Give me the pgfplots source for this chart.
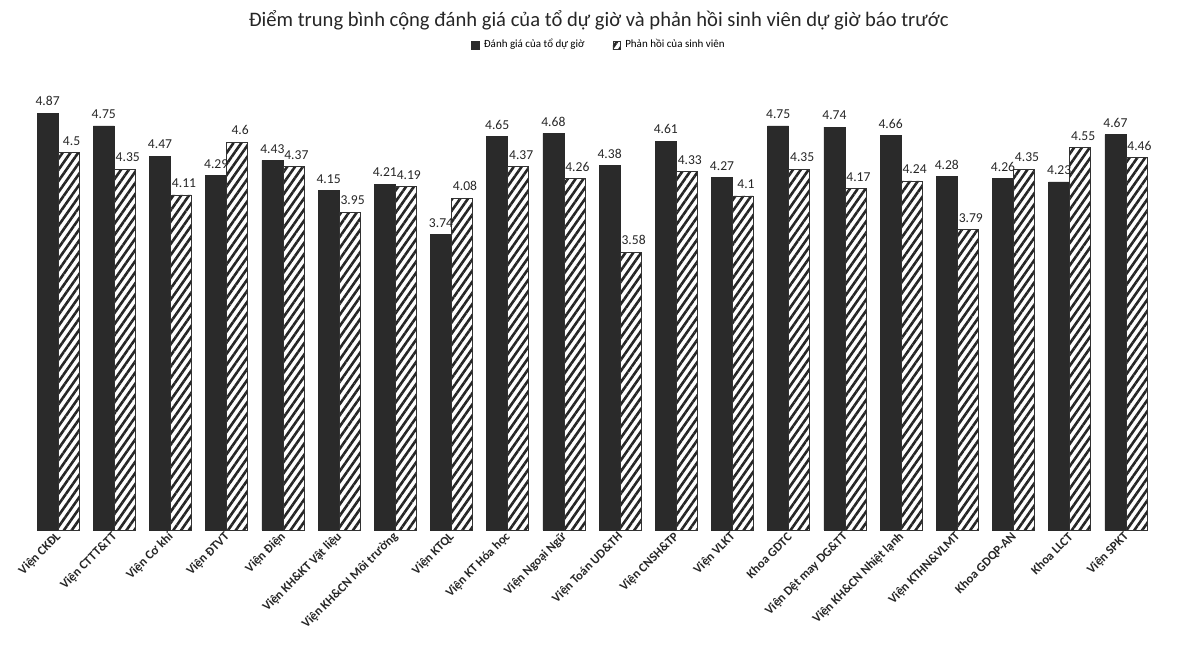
\documentclass[border=0pt]{standalone}
\usepackage{fontspec}
\setmainfont{Carlito}
\usepackage{pgfplots}
\pgfplotsset{compat=1.18}
\usetikzlibrary{patterns.meta}
\definecolor{darkbar}{HTML}{2A2A2A}
\begin{document}
\begin{tikzpicture}
\path[use as bounding box] (-15pt,-62.5pt) rectangle (575.5pt,265pt);
\begin{axis}[
  at={(0,0)}, anchor=south west,
  width=562pt, height=215.5pt, scale only axis,
  xmin=0.5, xmax=20.5, ymin=1, ymax=5,
  ybar=0pt, bar width=10.5pt,
  xtick={1,...,20},
  xticklabels={{Viện CKĐL},{Viện CTTT\&TT},{Viện Cơ khí},{Viện ĐTVT},{Viện Điện},{Viện KH\&KT Vật liệu},{Viện KH\&CN Môi trường},{Viện KTQL},{Viện KT Hóa học},{Viện Ngoại Ngữ},{Viện Toán UD\&TH},{Viện CNSH\&TP},{Viện VLKT},{Khoa GDTC},{Viện Dệt may DG\&TT},{Viện KH\&CN Nhiệt lạnh},{Viện KTHN\&VLMT},{Khoa GDQP-AN},{Khoa LLCT},{Viện SPKT}},
  xticklabel style={rotate=45, anchor=east, font=\bfseries\fontsize{6.3}{7}\selectfont, text=black!85, xshift=2pt, yshift=-2pt},
  axis y line=none, axis x line*=bottom, x axis line style={draw=none}, major tick length=0pt,
  /pgf/number format/assume math mode=true,
  nodes near coords, nodes near coords style={font=\fontsize{6.8}{8}\selectfont, text=black!85},
  title={Điểm trung bình cộng đánh giá của tổ dự giờ và phản hồi sinh viên dự giờ báo trước},
  title style={at={(0.506,1.155)}, anchor=center, font=\fontsize{10.3}{12}\selectfont, text=black!85},
  legend style={at={(0.507,1.125)}, anchor=center, draw=none, fill=none, font=\fontsize{5.5}{6}\selectfont, legend columns=2, /tikz/every even column/.append style={column sep=12pt}},
  legend image code/.code={\draw[#1] (0cm,-0.07cm) rectangle (0.14cm,0.07cm);},
]
\addplot[fill=darkbar, draw=darkbar] coordinates {
(1,4.87) (2,4.75) (3,4.47) (4,4.29) (5,4.43) (6,4.15) (7,4.21) (8,3.74) (9,4.65) (10,4.68)
(11,4.38) (12,4.61) (13,4.27) (14,4.75) (15,4.74) (16,4.66) (17,4.28) (18,4.26) (19,4.23) (20,4.67)};
\addlegendentry{Đánh giá của tổ dự giờ}
\addplot[pattern={Lines[angle=55,distance=3.2pt,line width=1.3pt]}, pattern color=black!85, draw=black!80, nodes near coords style={xshift=1.5pt}] coordinates {
(1,4.5) (2,4.35) (3,4.11) (4,4.6) (5,4.37) (6,3.95) (7,4.19) (8,4.08) (9,4.37) (10,4.26)
(11,3.58) (12,4.33) (13,4.1) (14,4.35) (15,4.17) (16,4.24) (17,3.79) (18,4.35) (19,4.55) (20,4.46)};
\addlegendentry{Phản hồi của sinh viên}
\end{axis}
\end{tikzpicture}
\end{document}
